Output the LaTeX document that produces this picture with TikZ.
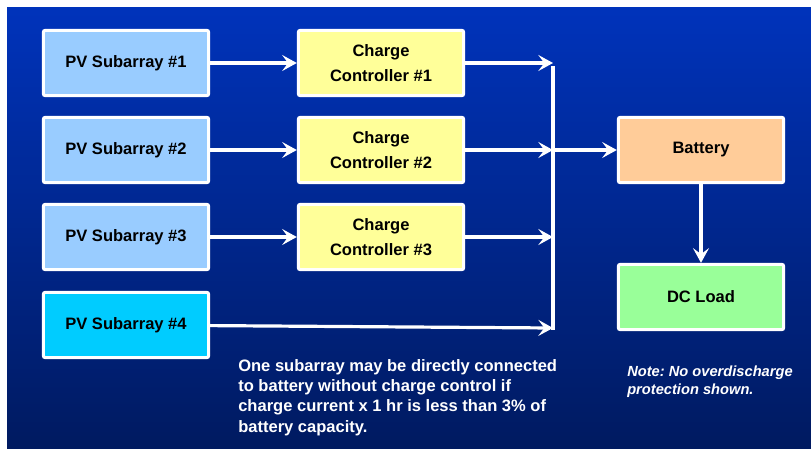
\documentclass[tikz,border=0pt]{standalone}
\usepackage{fontspec}
\setmainfont{Liberation Sans}
\usetikzlibrary{arrows.meta}
\definecolor{bgtop}{HTML}{0033BB}
\definecolor{bgbot}{HTML}{001A60}
\definecolor{pvblue}{HTML}{99CCFF}
\definecolor{pvcyan}{HTML}{00CCFF}
\definecolor{ccyellow}{HTML}{FFFF99}
\definecolor{batorange}{HTML}{FFCC99}
\definecolor{loadgreen}{HTML}{99FF99}
\frenchspacing
\begin{document}
\begin{tikzpicture}[x=0.75pt,y=-0.75pt,>={Stealth[length=11pt,width=12pt,inset=4.5pt]},
  box/.style={draw=white,line width=2.3pt,rounded corners=1.5pt,minimum width=124pt,
    minimum height=49pt,inner sep=0pt,align=center,
    font=\fontsize{12.4}{18.7}\selectfont\bfseries},
  wire/.style={draw=white,line width=2.4pt}]
\useasboundingbox (0,0) rectangle (811,451);
\shade[top color=bgtop,bottom color=bgbot] (7,7) rectangle (811,448);

% subarrays and controllers
\foreach \i/\y in {1/63,2/150,3/237}
{
    \node[box,fill=pvblue] (pv\i) at (126,\y) {PV Subarray \#\i};
    \node[box,fill=ccyellow] (cc\i) at (381,\y) {Charge\\Controller \#\i};
    \coordinate (j\i) at (553,\y);
    \draw[wire,->] (pv\i) -- (cc\i);
    \draw[wire,->] (cc\i) -- (j\i);
}
\node[box,fill=pvcyan] (pv4) at (126,325) {PV Subarray \#4};
\coordinate (j4) at (553,328);
\draw[wire,->] (pv4) -- (j4);

% bus
\coordinate (bustop) at (553,66);
\coordinate (busbot) at (553,330);
\draw[wire] (bustop) -- (busbot);

\node[box,fill=batorange] (bat) at (701,150) {Battery};
\node[box,fill=loadgreen] (load) at (701,297) {DC Load};
\draw[wire,->] (j2) -- (bat);
\draw[wire,->] (bat) -- (load);

\node[anchor=north west,inner sep=0pt,align=left,text=white,
  font=\fontsize{12.4}{15.2}\selectfont\bfseries] (remark) at (238,359)
  {One subarray may be directly connected\\to battery without charge control if\\charge current x 1 hr is less than 3\% of\\battery capacity.};
\node[anchor=north west,inner sep=0pt,align=left,text=white,
  font=\fontsize{11}{13.5}\selectfont\bfseries\itshape] (note) at (627,366)
  {Note: No overdischarge\\protection shown.};
\end{tikzpicture}
\end{document}
